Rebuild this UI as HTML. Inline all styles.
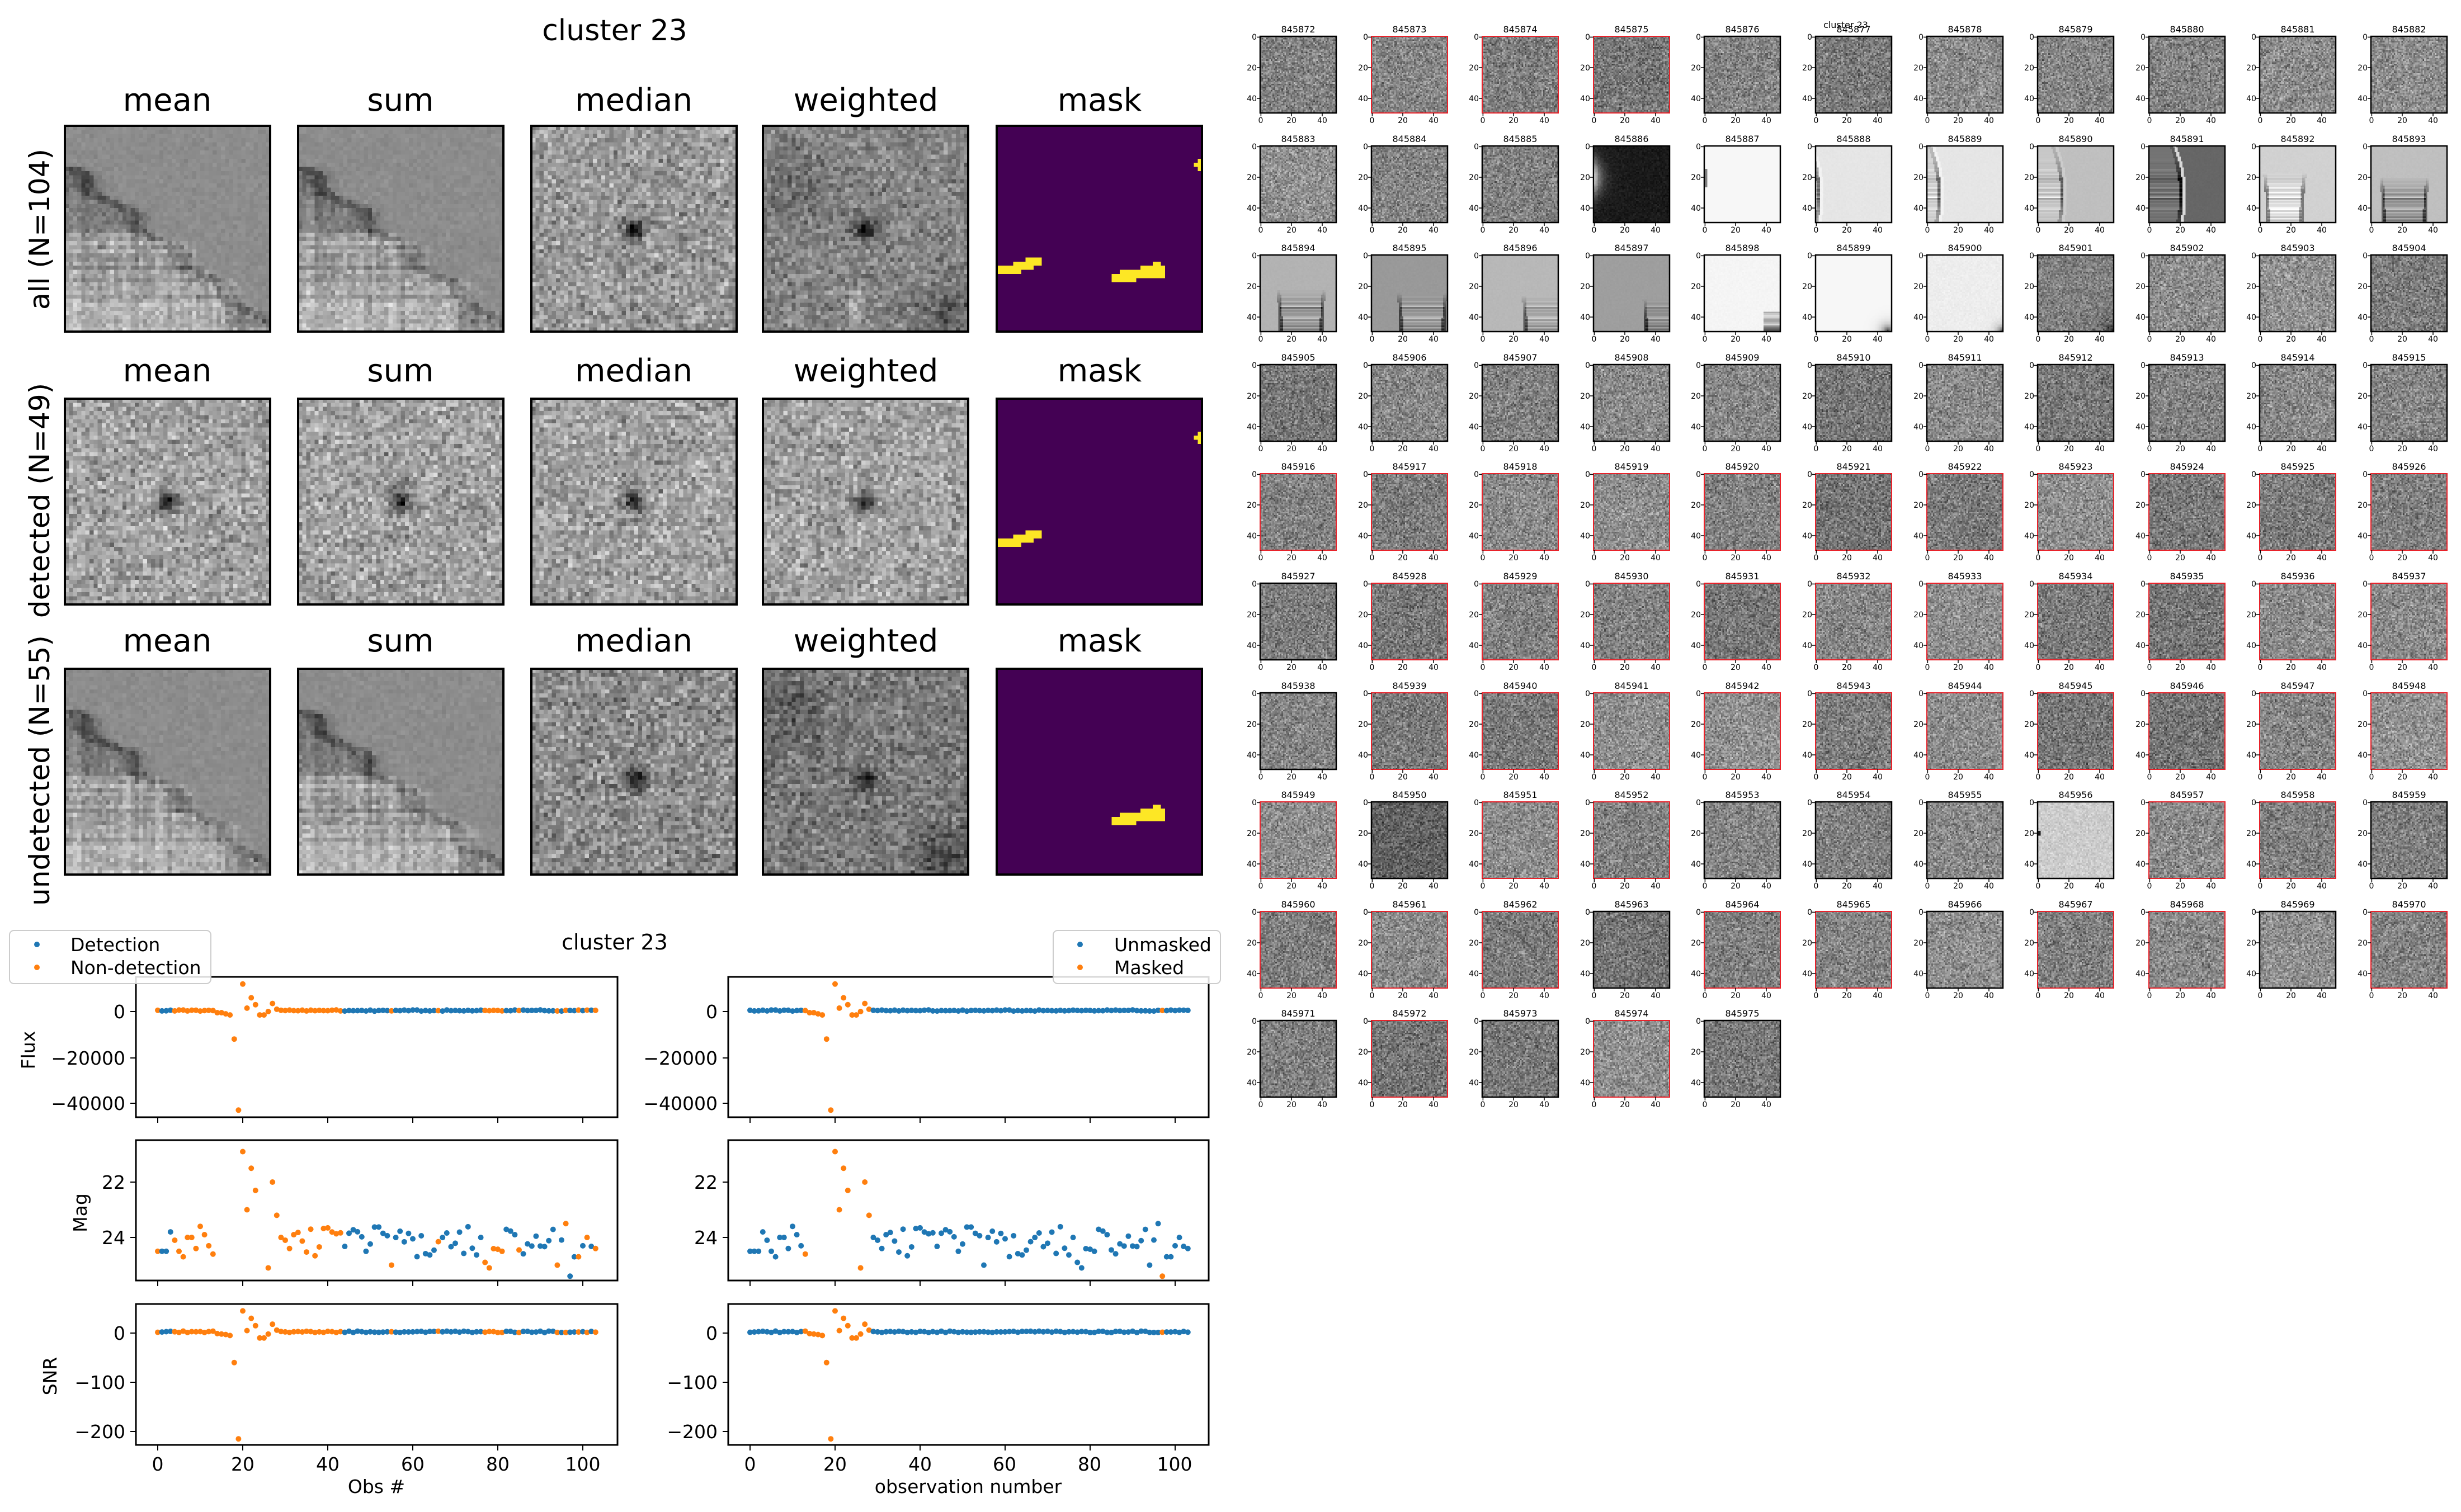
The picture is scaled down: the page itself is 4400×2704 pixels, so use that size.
<!DOCTYPE html>
<html><head><meta charset="utf-8">
<style>
html,body{margin:0;padding:0;background:#fff;}
body{width:4400px;height:2704px;position:relative;overflow:hidden;font-family:"DejaVu Sans","Liberation Sans",sans-serif;}
canvas{position:absolute;image-rendering:pixelated;}
svg{position:absolute;left:0;top:0;}
.t{font-size:16px;text-anchor:middle;}
.yl{font-size:14px;text-anchor:end;}
.xl{font-size:14px;text-anchor:middle;}
.big{font-size:56px;text-anchor:middle;}
.tk{font-size:33px;}
</style></head><body>
<div id="cv"></div>
<svg id="s" width="4400" height="2704" viewBox="0 0 4400 2704" font-family="DejaVu Sans, Liberation Sans, sans-serif">
<g id="dyn"></g>
<text x="1099" y="72" font-size="52" text-anchor="middle">cluster 23</text>
<g class="big">
<text x="299" y="198" class="big">mean</text><text x="716" y="198" class="big">sum</text><text x="1133" y="198" class="big">median</text><text x="1548" y="198" class="big">weighted</text><text x="1966" y="198" class="big">mask</text>
<text x="299" y="682" class="big">mean</text><text x="716" y="682" class="big">sum</text><text x="1133" y="682" class="big">median</text><text x="1548" y="682" class="big">weighted</text><text x="1966" y="682" class="big">mask</text>
<text x="299" y="1165" class="big">mean</text><text x="716" y="1165" class="big">sum</text><text x="1133" y="1165" class="big">median</text><text x="1548" y="1165" class="big">weighted</text><text x="1966" y="1165" class="big">mask</text>
</g>
<text transform="translate(88,410) rotate(-90)" font-size="50" text-anchor="middle">all (N=104)</text>
<text transform="translate(88,895) rotate(-90)" font-size="50" text-anchor="middle">detected (N=49)</text>
<text transform="translate(88,1378) rotate(-90)" font-size="50" text-anchor="middle">undetected (N=55)</text>

<text x="1099" y="1698" font-size="38" text-anchor="middle">cluster 23</text>
<g class="tk" text-anchor="end">
<text x="224" y="1821">0</text><text x="224" y="1904">−20000</text><text x="224" y="1985">−40000</text>
<text x="224" y="2126">22</text><text x="224" y="2225">24</text>
<text x="224" y="2396">0</text><text x="224" y="2484">−100</text><text x="224" y="2572">−200</text>
<text x="1283" y="1821">0</text><text x="1283" y="1904">−20000</text><text x="1283" y="1985">−40000</text>
<text x="1283" y="2126">22</text><text x="1283" y="2225">24</text>
<text x="1283" y="2396">0</text><text x="1283" y="2484">−100</text><text x="1283" y="2572">−200</text>
</g>
<g class="tk" text-anchor="middle">
<text x="282" y="2630">0</text><text x="434" y="2630">20</text><text x="586" y="2630">40</text><text x="738" y="2630">60</text><text x="890" y="2630">80</text><text x="1042" y="2630">100</text>
<text x="1341" y="2630">0</text><text x="1493" y="2630">20</text><text x="1645" y="2630">40</text><text x="1796" y="2630">60</text><text x="1948" y="2630">80</text><text x="2100" y="2630">100</text>
<text x="673" y="2670">Obs #</text><text x="1731" y="2670">observation number</text>
</g>
<text transform="translate(62,1878) rotate(-90)" font-size="33" text-anchor="middle">Flux</text>
<text transform="translate(155,2169) rotate(-90)" font-size="33" text-anchor="middle">Mag</text>
<text transform="translate(101,2461) rotate(-90)" font-size="33" text-anchor="middle">SNR</text>
<rect x="17" y="1664" width="360" height="95" rx="8" fill="#fff" fill-opacity="0.85" stroke="#ccc" stroke-width="2"/>
<circle cx="66" cy="1689" r="5" fill="#1f77b4"/><circle cx="66" cy="1730" r="5" fill="#ff7f0e"/>
<text x="126" y="1701" font-size="33">Detection</text><text x="126" y="1742" font-size="33">Non-detection</text>
<rect x="1883" y="1664" width="299" height="95" rx="8" fill="#fff" fill-opacity="0.85" stroke="#ccc" stroke-width="2"/>
<circle cx="1931" cy="1689" r="5" fill="#1f77b4"/><circle cx="1931" cy="1730" r="5" fill="#ff7f0e"/>
<text x="1992" y="1701" font-size="33">Unmasked</text><text x="1992" y="1742" font-size="33">Masked</text>

<text x="3300" y="50" font-size="16" text-anchor="middle">cluster 23</text>
</svg>
<svg width="4400" height="2704" viewBox="0 0 4400 2704" font-family="DejaVu Sans, Liberation Sans, sans-serif" style="position:absolute;left:0;top:0">
<g transform="translate(2253,65)"><text class="t" x="68" y="-7">845872</text><text class="yl" x="-6" y="6">0</text><text class="yl" x="-6" y="61">20</text><text class="yl" x="-6" y="116">40</text><text class="xl" x="1" y="155">0</text><text class="xl" x="56" y="155">20</text><text class="xl" x="111" y="155">40</text></g>
<g transform="translate(2452,65)"><text class="t" x="68" y="-7">845873</text><text class="yl" x="-6" y="6">0</text><text class="yl" x="-6" y="61">20</text><text class="yl" x="-6" y="116">40</text><text class="xl" x="1" y="155">0</text><text class="xl" x="56" y="155">20</text><text class="xl" x="111" y="155">40</text></g>
<g transform="translate(2650,65)"><text class="t" x="68" y="-7">845874</text><text class="yl" x="-6" y="6">0</text><text class="yl" x="-6" y="61">20</text><text class="yl" x="-6" y="116">40</text><text class="xl" x="1" y="155">0</text><text class="xl" x="56" y="155">20</text><text class="xl" x="111" y="155">40</text></g>
<g transform="translate(2849,65)"><text class="t" x="68" y="-7">845875</text><text class="yl" x="-6" y="6">0</text><text class="yl" x="-6" y="61">20</text><text class="yl" x="-6" y="116">40</text><text class="xl" x="1" y="155">0</text><text class="xl" x="56" y="155">20</text><text class="xl" x="111" y="155">40</text></g>
<g transform="translate(3047,65)"><text class="t" x="68" y="-7">845876</text><text class="yl" x="-6" y="6">0</text><text class="yl" x="-6" y="61">20</text><text class="yl" x="-6" y="116">40</text><text class="xl" x="1" y="155">0</text><text class="xl" x="56" y="155">20</text><text class="xl" x="111" y="155">40</text></g>
<g transform="translate(3246,65)"><text class="t" x="68" y="-7">845877</text><text class="yl" x="-6" y="6">0</text><text class="yl" x="-6" y="61">20</text><text class="yl" x="-6" y="116">40</text><text class="xl" x="1" y="155">0</text><text class="xl" x="56" y="155">20</text><text class="xl" x="111" y="155">40</text></g>
<g transform="translate(3445,65)"><text class="t" x="68" y="-7">845878</text><text class="yl" x="-6" y="6">0</text><text class="yl" x="-6" y="61">20</text><text class="yl" x="-6" y="116">40</text><text class="xl" x="1" y="155">0</text><text class="xl" x="56" y="155">20</text><text class="xl" x="111" y="155">40</text></g>
<g transform="translate(3643,65)"><text class="t" x="68" y="-7">845879</text><text class="yl" x="-6" y="6">0</text><text class="yl" x="-6" y="61">20</text><text class="yl" x="-6" y="116">40</text><text class="xl" x="1" y="155">0</text><text class="xl" x="56" y="155">20</text><text class="xl" x="111" y="155">40</text></g>
<g transform="translate(3842,65)"><text class="t" x="68" y="-7">845880</text><text class="yl" x="-6" y="6">0</text><text class="yl" x="-6" y="61">20</text><text class="yl" x="-6" y="116">40</text><text class="xl" x="1" y="155">0</text><text class="xl" x="56" y="155">20</text><text class="xl" x="111" y="155">40</text></g>
<g transform="translate(4040,65)"><text class="t" x="68" y="-7">845881</text><text class="yl" x="-6" y="6">0</text><text class="yl" x="-6" y="61">20</text><text class="yl" x="-6" y="116">40</text><text class="xl" x="1" y="155">0</text><text class="xl" x="56" y="155">20</text><text class="xl" x="111" y="155">40</text></g>
<g transform="translate(4239,65)"><text class="t" x="68" y="-7">845882</text><text class="yl" x="-6" y="6">0</text><text class="yl" x="-6" y="61">20</text><text class="yl" x="-6" y="116">40</text><text class="xl" x="1" y="155">0</text><text class="xl" x="56" y="155">20</text><text class="xl" x="111" y="155">40</text></g>
<g transform="translate(2253,261)"><text class="t" x="68" y="-7">845883</text><text class="yl" x="-6" y="6">0</text><text class="yl" x="-6" y="61">20</text><text class="yl" x="-6" y="116">40</text><text class="xl" x="1" y="155">0</text><text class="xl" x="56" y="155">20</text><text class="xl" x="111" y="155">40</text></g>
<g transform="translate(2452,261)"><text class="t" x="68" y="-7">845884</text><text class="yl" x="-6" y="6">0</text><text class="yl" x="-6" y="61">20</text><text class="yl" x="-6" y="116">40</text><text class="xl" x="1" y="155">0</text><text class="xl" x="56" y="155">20</text><text class="xl" x="111" y="155">40</text></g>
<g transform="translate(2650,261)"><text class="t" x="68" y="-7">845885</text><text class="yl" x="-6" y="6">0</text><text class="yl" x="-6" y="61">20</text><text class="yl" x="-6" y="116">40</text><text class="xl" x="1" y="155">0</text><text class="xl" x="56" y="155">20</text><text class="xl" x="111" y="155">40</text></g>
<g transform="translate(2849,261)"><text class="t" x="68" y="-7">845886</text><text class="yl" x="-6" y="6">0</text><text class="yl" x="-6" y="61">20</text><text class="yl" x="-6" y="116">40</text><text class="xl" x="1" y="155">0</text><text class="xl" x="56" y="155">20</text><text class="xl" x="111" y="155">40</text></g>
<g transform="translate(3047,261)"><text class="t" x="68" y="-7">845887</text><text class="yl" x="-6" y="6">0</text><text class="yl" x="-6" y="61">20</text><text class="yl" x="-6" y="116">40</text><text class="xl" x="1" y="155">0</text><text class="xl" x="56" y="155">20</text><text class="xl" x="111" y="155">40</text></g>
<g transform="translate(3246,261)"><text class="t" x="68" y="-7">845888</text><text class="yl" x="-6" y="6">0</text><text class="yl" x="-6" y="61">20</text><text class="yl" x="-6" y="116">40</text><text class="xl" x="1" y="155">0</text><text class="xl" x="56" y="155">20</text><text class="xl" x="111" y="155">40</text></g>
<g transform="translate(3445,261)"><text class="t" x="68" y="-7">845889</text><text class="yl" x="-6" y="6">0</text><text class="yl" x="-6" y="61">20</text><text class="yl" x="-6" y="116">40</text><text class="xl" x="1" y="155">0</text><text class="xl" x="56" y="155">20</text><text class="xl" x="111" y="155">40</text></g>
<g transform="translate(3643,261)"><text class="t" x="68" y="-7">845890</text><text class="yl" x="-6" y="6">0</text><text class="yl" x="-6" y="61">20</text><text class="yl" x="-6" y="116">40</text><text class="xl" x="1" y="155">0</text><text class="xl" x="56" y="155">20</text><text class="xl" x="111" y="155">40</text></g>
<g transform="translate(3842,261)"><text class="t" x="68" y="-7">845891</text><text class="yl" x="-6" y="6">0</text><text class="yl" x="-6" y="61">20</text><text class="yl" x="-6" y="116">40</text><text class="xl" x="1" y="155">0</text><text class="xl" x="56" y="155">20</text><text class="xl" x="111" y="155">40</text></g>
<g transform="translate(4040,261)"><text class="t" x="68" y="-7">845892</text><text class="yl" x="-6" y="6">0</text><text class="yl" x="-6" y="61">20</text><text class="yl" x="-6" y="116">40</text><text class="xl" x="1" y="155">0</text><text class="xl" x="56" y="155">20</text><text class="xl" x="111" y="155">40</text></g>
<g transform="translate(4239,261)"><text class="t" x="68" y="-7">845893</text><text class="yl" x="-6" y="6">0</text><text class="yl" x="-6" y="61">20</text><text class="yl" x="-6" y="116">40</text><text class="xl" x="1" y="155">0</text><text class="xl" x="56" y="155">20</text><text class="xl" x="111" y="155">40</text></g>
<g transform="translate(2253,456)"><text class="t" x="68" y="-7">845894</text><text class="yl" x="-6" y="6">0</text><text class="yl" x="-6" y="61">20</text><text class="yl" x="-6" y="116">40</text><text class="xl" x="1" y="155">0</text><text class="xl" x="56" y="155">20</text><text class="xl" x="111" y="155">40</text></g>
<g transform="translate(2452,456)"><text class="t" x="68" y="-7">845895</text><text class="yl" x="-6" y="6">0</text><text class="yl" x="-6" y="61">20</text><text class="yl" x="-6" y="116">40</text><text class="xl" x="1" y="155">0</text><text class="xl" x="56" y="155">20</text><text class="xl" x="111" y="155">40</text></g>
<g transform="translate(2650,456)"><text class="t" x="68" y="-7">845896</text><text class="yl" x="-6" y="6">0</text><text class="yl" x="-6" y="61">20</text><text class="yl" x="-6" y="116">40</text><text class="xl" x="1" y="155">0</text><text class="xl" x="56" y="155">20</text><text class="xl" x="111" y="155">40</text></g>
<g transform="translate(2849,456)"><text class="t" x="68" y="-7">845897</text><text class="yl" x="-6" y="6">0</text><text class="yl" x="-6" y="61">20</text><text class="yl" x="-6" y="116">40</text><text class="xl" x="1" y="155">0</text><text class="xl" x="56" y="155">20</text><text class="xl" x="111" y="155">40</text></g>
<g transform="translate(3047,456)"><text class="t" x="68" y="-7">845898</text><text class="yl" x="-6" y="6">0</text><text class="yl" x="-6" y="61">20</text><text class="yl" x="-6" y="116">40</text><text class="xl" x="1" y="155">0</text><text class="xl" x="56" y="155">20</text><text class="xl" x="111" y="155">40</text></g>
<g transform="translate(3246,456)"><text class="t" x="68" y="-7">845899</text><text class="yl" x="-6" y="6">0</text><text class="yl" x="-6" y="61">20</text><text class="yl" x="-6" y="116">40</text><text class="xl" x="1" y="155">0</text><text class="xl" x="56" y="155">20</text><text class="xl" x="111" y="155">40</text></g>
<g transform="translate(3445,456)"><text class="t" x="68" y="-7">845900</text><text class="yl" x="-6" y="6">0</text><text class="yl" x="-6" y="61">20</text><text class="yl" x="-6" y="116">40</text><text class="xl" x="1" y="155">0</text><text class="xl" x="56" y="155">20</text><text class="xl" x="111" y="155">40</text></g>
<g transform="translate(3643,456)"><text class="t" x="68" y="-7">845901</text><text class="yl" x="-6" y="6">0</text><text class="yl" x="-6" y="61">20</text><text class="yl" x="-6" y="116">40</text><text class="xl" x="1" y="155">0</text><text class="xl" x="56" y="155">20</text><text class="xl" x="111" y="155">40</text></g>
<g transform="translate(3842,456)"><text class="t" x="68" y="-7">845902</text><text class="yl" x="-6" y="6">0</text><text class="yl" x="-6" y="61">20</text><text class="yl" x="-6" y="116">40</text><text class="xl" x="1" y="155">0</text><text class="xl" x="56" y="155">20</text><text class="xl" x="111" y="155">40</text></g>
<g transform="translate(4040,456)"><text class="t" x="68" y="-7">845903</text><text class="yl" x="-6" y="6">0</text><text class="yl" x="-6" y="61">20</text><text class="yl" x="-6" y="116">40</text><text class="xl" x="1" y="155">0</text><text class="xl" x="56" y="155">20</text><text class="xl" x="111" y="155">40</text></g>
<g transform="translate(4239,456)"><text class="t" x="68" y="-7">845904</text><text class="yl" x="-6" y="6">0</text><text class="yl" x="-6" y="61">20</text><text class="yl" x="-6" y="116">40</text><text class="xl" x="1" y="155">0</text><text class="xl" x="56" y="155">20</text><text class="xl" x="111" y="155">40</text></g>
<g transform="translate(2253,652)"><text class="t" x="68" y="-7">845905</text><text class="yl" x="-6" y="6">0</text><text class="yl" x="-6" y="61">20</text><text class="yl" x="-6" y="116">40</text><text class="xl" x="1" y="155">0</text><text class="xl" x="56" y="155">20</text><text class="xl" x="111" y="155">40</text></g>
<g transform="translate(2452,652)"><text class="t" x="68" y="-7">845906</text><text class="yl" x="-6" y="6">0</text><text class="yl" x="-6" y="61">20</text><text class="yl" x="-6" y="116">40</text><text class="xl" x="1" y="155">0</text><text class="xl" x="56" y="155">20</text><text class="xl" x="111" y="155">40</text></g>
<g transform="translate(2650,652)"><text class="t" x="68" y="-7">845907</text><text class="yl" x="-6" y="6">0</text><text class="yl" x="-6" y="61">20</text><text class="yl" x="-6" y="116">40</text><text class="xl" x="1" y="155">0</text><text class="xl" x="56" y="155">20</text><text class="xl" x="111" y="155">40</text></g>
<g transform="translate(2849,652)"><text class="t" x="68" y="-7">845908</text><text class="yl" x="-6" y="6">0</text><text class="yl" x="-6" y="61">20</text><text class="yl" x="-6" y="116">40</text><text class="xl" x="1" y="155">0</text><text class="xl" x="56" y="155">20</text><text class="xl" x="111" y="155">40</text></g>
<g transform="translate(3047,652)"><text class="t" x="68" y="-7">845909</text><text class="yl" x="-6" y="6">0</text><text class="yl" x="-6" y="61">20</text><text class="yl" x="-6" y="116">40</text><text class="xl" x="1" y="155">0</text><text class="xl" x="56" y="155">20</text><text class="xl" x="111" y="155">40</text></g>
<g transform="translate(3246,652)"><text class="t" x="68" y="-7">845910</text><text class="yl" x="-6" y="6">0</text><text class="yl" x="-6" y="61">20</text><text class="yl" x="-6" y="116">40</text><text class="xl" x="1" y="155">0</text><text class="xl" x="56" y="155">20</text><text class="xl" x="111" y="155">40</text></g>
<g transform="translate(3445,652)"><text class="t" x="68" y="-7">845911</text><text class="yl" x="-6" y="6">0</text><text class="yl" x="-6" y="61">20</text><text class="yl" x="-6" y="116">40</text><text class="xl" x="1" y="155">0</text><text class="xl" x="56" y="155">20</text><text class="xl" x="111" y="155">40</text></g>
<g transform="translate(3643,652)"><text class="t" x="68" y="-7">845912</text><text class="yl" x="-6" y="6">0</text><text class="yl" x="-6" y="61">20</text><text class="yl" x="-6" y="116">40</text><text class="xl" x="1" y="155">0</text><text class="xl" x="56" y="155">20</text><text class="xl" x="111" y="155">40</text></g>
<g transform="translate(3842,652)"><text class="t" x="68" y="-7">845913</text><text class="yl" x="-6" y="6">0</text><text class="yl" x="-6" y="61">20</text><text class="yl" x="-6" y="116">40</text><text class="xl" x="1" y="155">0</text><text class="xl" x="56" y="155">20</text><text class="xl" x="111" y="155">40</text></g>
<g transform="translate(4040,652)"><text class="t" x="68" y="-7">845914</text><text class="yl" x="-6" y="6">0</text><text class="yl" x="-6" y="61">20</text><text class="yl" x="-6" y="116">40</text><text class="xl" x="1" y="155">0</text><text class="xl" x="56" y="155">20</text><text class="xl" x="111" y="155">40</text></g>
<g transform="translate(4239,652)"><text class="t" x="68" y="-7">845915</text><text class="yl" x="-6" y="6">0</text><text class="yl" x="-6" y="61">20</text><text class="yl" x="-6" y="116">40</text><text class="xl" x="1" y="155">0</text><text class="xl" x="56" y="155">20</text><text class="xl" x="111" y="155">40</text></g>
<g transform="translate(2253,847)"><text class="t" x="68" y="-7">845916</text><text class="yl" x="-6" y="6">0</text><text class="yl" x="-6" y="61">20</text><text class="yl" x="-6" y="116">40</text><text class="xl" x="1" y="155">0</text><text class="xl" x="56" y="155">20</text><text class="xl" x="111" y="155">40</text></g>
<g transform="translate(2452,847)"><text class="t" x="68" y="-7">845917</text><text class="yl" x="-6" y="6">0</text><text class="yl" x="-6" y="61">20</text><text class="yl" x="-6" y="116">40</text><text class="xl" x="1" y="155">0</text><text class="xl" x="56" y="155">20</text><text class="xl" x="111" y="155">40</text></g>
<g transform="translate(2650,847)"><text class="t" x="68" y="-7">845918</text><text class="yl" x="-6" y="6">0</text><text class="yl" x="-6" y="61">20</text><text class="yl" x="-6" y="116">40</text><text class="xl" x="1" y="155">0</text><text class="xl" x="56" y="155">20</text><text class="xl" x="111" y="155">40</text></g>
<g transform="translate(2849,847)"><text class="t" x="68" y="-7">845919</text><text class="yl" x="-6" y="6">0</text><text class="yl" x="-6" y="61">20</text><text class="yl" x="-6" y="116">40</text><text class="xl" x="1" y="155">0</text><text class="xl" x="56" y="155">20</text><text class="xl" x="111" y="155">40</text></g>
<g transform="translate(3047,847)"><text class="t" x="68" y="-7">845920</text><text class="yl" x="-6" y="6">0</text><text class="yl" x="-6" y="61">20</text><text class="yl" x="-6" y="116">40</text><text class="xl" x="1" y="155">0</text><text class="xl" x="56" y="155">20</text><text class="xl" x="111" y="155">40</text></g>
<g transform="translate(3246,847)"><text class="t" x="68" y="-7">845921</text><text class="yl" x="-6" y="6">0</text><text class="yl" x="-6" y="61">20</text><text class="yl" x="-6" y="116">40</text><text class="xl" x="1" y="155">0</text><text class="xl" x="56" y="155">20</text><text class="xl" x="111" y="155">40</text></g>
<g transform="translate(3445,847)"><text class="t" x="68" y="-7">845922</text><text class="yl" x="-6" y="6">0</text><text class="yl" x="-6" y="61">20</text><text class="yl" x="-6" y="116">40</text><text class="xl" x="1" y="155">0</text><text class="xl" x="56" y="155">20</text><text class="xl" x="111" y="155">40</text></g>
<g transform="translate(3643,847)"><text class="t" x="68" y="-7">845923</text><text class="yl" x="-6" y="6">0</text><text class="yl" x="-6" y="61">20</text><text class="yl" x="-6" y="116">40</text><text class="xl" x="1" y="155">0</text><text class="xl" x="56" y="155">20</text><text class="xl" x="111" y="155">40</text></g>
<g transform="translate(3842,847)"><text class="t" x="68" y="-7">845924</text><text class="yl" x="-6" y="6">0</text><text class="yl" x="-6" y="61">20</text><text class="yl" x="-6" y="116">40</text><text class="xl" x="1" y="155">0</text><text class="xl" x="56" y="155">20</text><text class="xl" x="111" y="155">40</text></g>
<g transform="translate(4040,847)"><text class="t" x="68" y="-7">845925</text><text class="yl" x="-6" y="6">0</text><text class="yl" x="-6" y="61">20</text><text class="yl" x="-6" y="116">40</text><text class="xl" x="1" y="155">0</text><text class="xl" x="56" y="155">20</text><text class="xl" x="111" y="155">40</text></g>
<g transform="translate(4239,847)"><text class="t" x="68" y="-7">845926</text><text class="yl" x="-6" y="6">0</text><text class="yl" x="-6" y="61">20</text><text class="yl" x="-6" y="116">40</text><text class="xl" x="1" y="155">0</text><text class="xl" x="56" y="155">20</text><text class="xl" x="111" y="155">40</text></g>
<g transform="translate(2253,1043)"><text class="t" x="68" y="-7">845927</text><text class="yl" x="-6" y="6">0</text><text class="yl" x="-6" y="61">20</text><text class="yl" x="-6" y="116">40</text><text class="xl" x="1" y="155">0</text><text class="xl" x="56" y="155">20</text><text class="xl" x="111" y="155">40</text></g>
<g transform="translate(2452,1043)"><text class="t" x="68" y="-7">845928</text><text class="yl" x="-6" y="6">0</text><text class="yl" x="-6" y="61">20</text><text class="yl" x="-6" y="116">40</text><text class="xl" x="1" y="155">0</text><text class="xl" x="56" y="155">20</text><text class="xl" x="111" y="155">40</text></g>
<g transform="translate(2650,1043)"><text class="t" x="68" y="-7">845929</text><text class="yl" x="-6" y="6">0</text><text class="yl" x="-6" y="61">20</text><text class="yl" x="-6" y="116">40</text><text class="xl" x="1" y="155">0</text><text class="xl" x="56" y="155">20</text><text class="xl" x="111" y="155">40</text></g>
<g transform="translate(2849,1043)"><text class="t" x="68" y="-7">845930</text><text class="yl" x="-6" y="6">0</text><text class="yl" x="-6" y="61">20</text><text class="yl" x="-6" y="116">40</text><text class="xl" x="1" y="155">0</text><text class="xl" x="56" y="155">20</text><text class="xl" x="111" y="155">40</text></g>
<g transform="translate(3047,1043)"><text class="t" x="68" y="-7">845931</text><text class="yl" x="-6" y="6">0</text><text class="yl" x="-6" y="61">20</text><text class="yl" x="-6" y="116">40</text><text class="xl" x="1" y="155">0</text><text class="xl" x="56" y="155">20</text><text class="xl" x="111" y="155">40</text></g>
<g transform="translate(3246,1043)"><text class="t" x="68" y="-7">845932</text><text class="yl" x="-6" y="6">0</text><text class="yl" x="-6" y="61">20</text><text class="yl" x="-6" y="116">40</text><text class="xl" x="1" y="155">0</text><text class="xl" x="56" y="155">20</text><text class="xl" x="111" y="155">40</text></g>
<g transform="translate(3445,1043)"><text class="t" x="68" y="-7">845933</text><text class="yl" x="-6" y="6">0</text><text class="yl" x="-6" y="61">20</text><text class="yl" x="-6" y="116">40</text><text class="xl" x="1" y="155">0</text><text class="xl" x="56" y="155">20</text><text class="xl" x="111" y="155">40</text></g>
<g transform="translate(3643,1043)"><text class="t" x="68" y="-7">845934</text><text class="yl" x="-6" y="6">0</text><text class="yl" x="-6" y="61">20</text><text class="yl" x="-6" y="116">40</text><text class="xl" x="1" y="155">0</text><text class="xl" x="56" y="155">20</text><text class="xl" x="111" y="155">40</text></g>
<g transform="translate(3842,1043)"><text class="t" x="68" y="-7">845935</text><text class="yl" x="-6" y="6">0</text><text class="yl" x="-6" y="61">20</text><text class="yl" x="-6" y="116">40</text><text class="xl" x="1" y="155">0</text><text class="xl" x="56" y="155">20</text><text class="xl" x="111" y="155">40</text></g>
<g transform="translate(4040,1043)"><text class="t" x="68" y="-7">845936</text><text class="yl" x="-6" y="6">0</text><text class="yl" x="-6" y="61">20</text><text class="yl" x="-6" y="116">40</text><text class="xl" x="1" y="155">0</text><text class="xl" x="56" y="155">20</text><text class="xl" x="111" y="155">40</text></g>
<g transform="translate(4239,1043)"><text class="t" x="68" y="-7">845937</text><text class="yl" x="-6" y="6">0</text><text class="yl" x="-6" y="61">20</text><text class="yl" x="-6" y="116">40</text><text class="xl" x="1" y="155">0</text><text class="xl" x="56" y="155">20</text><text class="xl" x="111" y="155">40</text></g>
<g transform="translate(2253,1239)"><text class="t" x="68" y="-7">845938</text><text class="yl" x="-6" y="6">0</text><text class="yl" x="-6" y="61">20</text><text class="yl" x="-6" y="116">40</text><text class="xl" x="1" y="155">0</text><text class="xl" x="56" y="155">20</text><text class="xl" x="111" y="155">40</text></g>
<g transform="translate(2452,1239)"><text class="t" x="68" y="-7">845939</text><text class="yl" x="-6" y="6">0</text><text class="yl" x="-6" y="61">20</text><text class="yl" x="-6" y="116">40</text><text class="xl" x="1" y="155">0</text><text class="xl" x="56" y="155">20</text><text class="xl" x="111" y="155">40</text></g>
<g transform="translate(2650,1239)"><text class="t" x="68" y="-7">845940</text><text class="yl" x="-6" y="6">0</text><text class="yl" x="-6" y="61">20</text><text class="yl" x="-6" y="116">40</text><text class="xl" x="1" y="155">0</text><text class="xl" x="56" y="155">20</text><text class="xl" x="111" y="155">40</text></g>
<g transform="translate(2849,1239)"><text class="t" x="68" y="-7">845941</text><text class="yl" x="-6" y="6">0</text><text class="yl" x="-6" y="61">20</text><text class="yl" x="-6" y="116">40</text><text class="xl" x="1" y="155">0</text><text class="xl" x="56" y="155">20</text><text class="xl" x="111" y="155">40</text></g>
<g transform="translate(3047,1239)"><text class="t" x="68" y="-7">845942</text><text class="yl" x="-6" y="6">0</text><text class="yl" x="-6" y="61">20</text><text class="yl" x="-6" y="116">40</text><text class="xl" x="1" y="155">0</text><text class="xl" x="56" y="155">20</text><text class="xl" x="111" y="155">40</text></g>
<g transform="translate(3246,1239)"><text class="t" x="68" y="-7">845943</text><text class="yl" x="-6" y="6">0</text><text class="yl" x="-6" y="61">20</text><text class="yl" x="-6" y="116">40</text><text class="xl" x="1" y="155">0</text><text class="xl" x="56" y="155">20</text><text class="xl" x="111" y="155">40</text></g>
<g transform="translate(3445,1239)"><text class="t" x="68" y="-7">845944</text><text class="yl" x="-6" y="6">0</text><text class="yl" x="-6" y="61">20</text><text class="yl" x="-6" y="116">40</text><text class="xl" x="1" y="155">0</text><text class="xl" x="56" y="155">20</text><text class="xl" x="111" y="155">40</text></g>
<g transform="translate(3643,1239)"><text class="t" x="68" y="-7">845945</text><text class="yl" x="-6" y="6">0</text><text class="yl" x="-6" y="61">20</text><text class="yl" x="-6" y="116">40</text><text class="xl" x="1" y="155">0</text><text class="xl" x="56" y="155">20</text><text class="xl" x="111" y="155">40</text></g>
<g transform="translate(3842,1239)"><text class="t" x="68" y="-7">845946</text><text class="yl" x="-6" y="6">0</text><text class="yl" x="-6" y="61">20</text><text class="yl" x="-6" y="116">40</text><text class="xl" x="1" y="155">0</text><text class="xl" x="56" y="155">20</text><text class="xl" x="111" y="155">40</text></g>
<g transform="translate(4040,1239)"><text class="t" x="68" y="-7">845947</text><text class="yl" x="-6" y="6">0</text><text class="yl" x="-6" y="61">20</text><text class="yl" x="-6" y="116">40</text><text class="xl" x="1" y="155">0</text><text class="xl" x="56" y="155">20</text><text class="xl" x="111" y="155">40</text></g>
<g transform="translate(4239,1239)"><text class="t" x="68" y="-7">845948</text><text class="yl" x="-6" y="6">0</text><text class="yl" x="-6" y="61">20</text><text class="yl" x="-6" y="116">40</text><text class="xl" x="1" y="155">0</text><text class="xl" x="56" y="155">20</text><text class="xl" x="111" y="155">40</text></g>
<g transform="translate(2253,1434)"><text class="t" x="68" y="-7">845949</text><text class="yl" x="-6" y="6">0</text><text class="yl" x="-6" y="61">20</text><text class="yl" x="-6" y="116">40</text><text class="xl" x="1" y="155">0</text><text class="xl" x="56" y="155">20</text><text class="xl" x="111" y="155">40</text></g>
<g transform="translate(2452,1434)"><text class="t" x="68" y="-7">845950</text><text class="yl" x="-6" y="6">0</text><text class="yl" x="-6" y="61">20</text><text class="yl" x="-6" y="116">40</text><text class="xl" x="1" y="155">0</text><text class="xl" x="56" y="155">20</text><text class="xl" x="111" y="155">40</text></g>
<g transform="translate(2650,1434)"><text class="t" x="68" y="-7">845951</text><text class="yl" x="-6" y="6">0</text><text class="yl" x="-6" y="61">20</text><text class="yl" x="-6" y="116">40</text><text class="xl" x="1" y="155">0</text><text class="xl" x="56" y="155">20</text><text class="xl" x="111" y="155">40</text></g>
<g transform="translate(2849,1434)"><text class="t" x="68" y="-7">845952</text><text class="yl" x="-6" y="6">0</text><text class="yl" x="-6" y="61">20</text><text class="yl" x="-6" y="116">40</text><text class="xl" x="1" y="155">0</text><text class="xl" x="56" y="155">20</text><text class="xl" x="111" y="155">40</text></g>
<g transform="translate(3047,1434)"><text class="t" x="68" y="-7">845953</text><text class="yl" x="-6" y="6">0</text><text class="yl" x="-6" y="61">20</text><text class="yl" x="-6" y="116">40</text><text class="xl" x="1" y="155">0</text><text class="xl" x="56" y="155">20</text><text class="xl" x="111" y="155">40</text></g>
<g transform="translate(3246,1434)"><text class="t" x="68" y="-7">845954</text><text class="yl" x="-6" y="6">0</text><text class="yl" x="-6" y="61">20</text><text class="yl" x="-6" y="116">40</text><text class="xl" x="1" y="155">0</text><text class="xl" x="56" y="155">20</text><text class="xl" x="111" y="155">40</text></g>
<g transform="translate(3445,1434)"><text class="t" x="68" y="-7">845955</text><text class="yl" x="-6" y="6">0</text><text class="yl" x="-6" y="61">20</text><text class="yl" x="-6" y="116">40</text><text class="xl" x="1" y="155">0</text><text class="xl" x="56" y="155">20</text><text class="xl" x="111" y="155">40</text></g>
<g transform="translate(3643,1434)"><text class="t" x="68" y="-7">845956</text><text class="yl" x="-6" y="6">0</text><text class="yl" x="-6" y="61">20</text><text class="yl" x="-6" y="116">40</text><text class="xl" x="1" y="155">0</text><text class="xl" x="56" y="155">20</text><text class="xl" x="111" y="155">40</text></g>
<g transform="translate(3842,1434)"><text class="t" x="68" y="-7">845957</text><text class="yl" x="-6" y="6">0</text><text class="yl" x="-6" y="61">20</text><text class="yl" x="-6" y="116">40</text><text class="xl" x="1" y="155">0</text><text class="xl" x="56" y="155">20</text><text class="xl" x="111" y="155">40</text></g>
<g transform="translate(4040,1434)"><text class="t" x="68" y="-7">845958</text><text class="yl" x="-6" y="6">0</text><text class="yl" x="-6" y="61">20</text><text class="yl" x="-6" y="116">40</text><text class="xl" x="1" y="155">0</text><text class="xl" x="56" y="155">20</text><text class="xl" x="111" y="155">40</text></g>
<g transform="translate(4239,1434)"><text class="t" x="68" y="-7">845959</text><text class="yl" x="-6" y="6">0</text><text class="yl" x="-6" y="61">20</text><text class="yl" x="-6" y="116">40</text><text class="xl" x="1" y="155">0</text><text class="xl" x="56" y="155">20</text><text class="xl" x="111" y="155">40</text></g>
<g transform="translate(2253,1630)"><text class="t" x="68" y="-7">845960</text><text class="yl" x="-6" y="6">0</text><text class="yl" x="-6" y="61">20</text><text class="yl" x="-6" y="116">40</text><text class="xl" x="1" y="155">0</text><text class="xl" x="56" y="155">20</text><text class="xl" x="111" y="155">40</text></g>
<g transform="translate(2452,1630)"><text class="t" x="68" y="-7">845961</text><text class="yl" x="-6" y="6">0</text><text class="yl" x="-6" y="61">20</text><text class="yl" x="-6" y="116">40</text><text class="xl" x="1" y="155">0</text><text class="xl" x="56" y="155">20</text><text class="xl" x="111" y="155">40</text></g>
<g transform="translate(2650,1630)"><text class="t" x="68" y="-7">845962</text><text class="yl" x="-6" y="6">0</text><text class="yl" x="-6" y="61">20</text><text class="yl" x="-6" y="116">40</text><text class="xl" x="1" y="155">0</text><text class="xl" x="56" y="155">20</text><text class="xl" x="111" y="155">40</text></g>
<g transform="translate(2849,1630)"><text class="t" x="68" y="-7">845963</text><text class="yl" x="-6" y="6">0</text><text class="yl" x="-6" y="61">20</text><text class="yl" x="-6" y="116">40</text><text class="xl" x="1" y="155">0</text><text class="xl" x="56" y="155">20</text><text class="xl" x="111" y="155">40</text></g>
<g transform="translate(3047,1630)"><text class="t" x="68" y="-7">845964</text><text class="yl" x="-6" y="6">0</text><text class="yl" x="-6" y="61">20</text><text class="yl" x="-6" y="116">40</text><text class="xl" x="1" y="155">0</text><text class="xl" x="56" y="155">20</text><text class="xl" x="111" y="155">40</text></g>
<g transform="translate(3246,1630)"><text class="t" x="68" y="-7">845965</text><text class="yl" x="-6" y="6">0</text><text class="yl" x="-6" y="61">20</text><text class="yl" x="-6" y="116">40</text><text class="xl" x="1" y="155">0</text><text class="xl" x="56" y="155">20</text><text class="xl" x="111" y="155">40</text></g>
<g transform="translate(3445,1630)"><text class="t" x="68" y="-7">845966</text><text class="yl" x="-6" y="6">0</text><text class="yl" x="-6" y="61">20</text><text class="yl" x="-6" y="116">40</text><text class="xl" x="1" y="155">0</text><text class="xl" x="56" y="155">20</text><text class="xl" x="111" y="155">40</text></g>
<g transform="translate(3643,1630)"><text class="t" x="68" y="-7">845967</text><text class="yl" x="-6" y="6">0</text><text class="yl" x="-6" y="61">20</text><text class="yl" x="-6" y="116">40</text><text class="xl" x="1" y="155">0</text><text class="xl" x="56" y="155">20</text><text class="xl" x="111" y="155">40</text></g>
<g transform="translate(3842,1630)"><text class="t" x="68" y="-7">845968</text><text class="yl" x="-6" y="6">0</text><text class="yl" x="-6" y="61">20</text><text class="yl" x="-6" y="116">40</text><text class="xl" x="1" y="155">0</text><text class="xl" x="56" y="155">20</text><text class="xl" x="111" y="155">40</text></g>
<g transform="translate(4040,1630)"><text class="t" x="68" y="-7">845969</text><text class="yl" x="-6" y="6">0</text><text class="yl" x="-6" y="61">20</text><text class="yl" x="-6" y="116">40</text><text class="xl" x="1" y="155">0</text><text class="xl" x="56" y="155">20</text><text class="xl" x="111" y="155">40</text></g>
<g transform="translate(4239,1630)"><text class="t" x="68" y="-7">845970</text><text class="yl" x="-6" y="6">0</text><text class="yl" x="-6" y="61">20</text><text class="yl" x="-6" y="116">40</text><text class="xl" x="1" y="155">0</text><text class="xl" x="56" y="155">20</text><text class="xl" x="111" y="155">40</text></g>
<g transform="translate(2253,1825)"><text class="t" x="68" y="-7">845971</text><text class="yl" x="-6" y="6">0</text><text class="yl" x="-6" y="61">20</text><text class="yl" x="-6" y="116">40</text><text class="xl" x="1" y="155">0</text><text class="xl" x="56" y="155">20</text><text class="xl" x="111" y="155">40</text></g>
<g transform="translate(2452,1825)"><text class="t" x="68" y="-7">845972</text><text class="yl" x="-6" y="6">0</text><text class="yl" x="-6" y="61">20</text><text class="yl" x="-6" y="116">40</text><text class="xl" x="1" y="155">0</text><text class="xl" x="56" y="155">20</text><text class="xl" x="111" y="155">40</text></g>
<g transform="translate(2650,1825)"><text class="t" x="68" y="-7">845973</text><text class="yl" x="-6" y="6">0</text><text class="yl" x="-6" y="61">20</text><text class="yl" x="-6" y="116">40</text><text class="xl" x="1" y="155">0</text><text class="xl" x="56" y="155">20</text><text class="xl" x="111" y="155">40</text></g>
<g transform="translate(2849,1825)"><text class="t" x="68" y="-7">845974</text><text class="yl" x="-6" y="6">0</text><text class="yl" x="-6" y="61">20</text><text class="yl" x="-6" y="116">40</text><text class="xl" x="1" y="155">0</text><text class="xl" x="56" y="155">20</text><text class="xl" x="111" y="155">40</text></g>
<g transform="translate(3047,1825)"><text class="t" x="68" y="-7">845975</text><text class="yl" x="-6" y="6">0</text><text class="yl" x="-6" y="61">20</text><text class="yl" x="-6" y="116">40</text><text class="xl" x="1" y="155">0</text><text class="xl" x="56" y="155">20</text><text class="xl" x="111" y="155">40</text></g>
</svg>
<script>
(function(){
var seed=12345;
function R(){seed|=0;seed=seed+0x6D2B79F5|0;var t=Math.imul(seed^seed>>>15,1|seed);t=t+Math.imul(t^t>>>7,61|t)^t;return((t^t>>>14)>>>0)/4294967296;}
function G(){return (R()+R()+R()-1.5)*1.15;}
var cv=document.getElementById('cv');
function mk(x,y,w,h,f,rgb){
  var c=document.createElement('canvas');c.width=50;c.height=50;
  c.style.left=x+'px';c.style.top=y+'px';c.style.width=w+'px';c.style.height=h+'px';
  var ctx=c.getContext('2d');var im=ctx.createImageData(50,50);
  for(var j=0;j<50;j++)for(var i=0;i<50;i++){
    var k=(j*50+i)*4;
    if(rgb){var col=f(i,j);im.data[k]=col[0];im.data[k+1]=col[1];im.data[k+2]=col[2];}
    else{var v=f(i,j);v=Math.max(0,Math.min(1,v));var g=Math.round(v*255);im.data[k]=im.data[k+1]=im.data[k+2]=g;}
    im.data[k+3]=255;}
  ctx.putImageData(im,0,0);cv.appendChild(c);
}
var svgNS="http://www.w3.org/2000/svg";var dyn=document.getElementById('dyn');
function el(n,a){var e=document.createElementNS(svgNS,n);for(var k in a)e.setAttribute(k,a[k]);dyn.appendChild(e);return e;}
// ---- left images ----
var LX=[116,533,950,1364,1782],LY=[225,713,1196],LW=367,LH=368;
var colS=[],rowS=[];
for(var q=0;q<50;q++){colS.push(0.12*G());rowS.push(0.12*G());}
function meanImg(i,j){
  var b=0.55+0.03*G();
  var edge=(j-9)*1.3+2*Math.sin(j*0.7);
  if(j>9 && i<edge+4){
    var w=i<edge?1:(edge+4-i)/4;
    var v;
    if(j<26){v=0.42+0.08*(j-10)/16+0.5*colS[i]+0.08*G();}
    else{v=0.6+0.08*(j-26)/24+0.6*rowS[j]+0.5*colS[i]+0.1*G();}
    if(i>edge-4 && i<edge+1) v-=0.12;
    if(i>38&&j>42) v-=0.15;
    return w*v+(1-w)*b;}
  return b;}
function star(i,j,cx,cy,a){var r2=(i-cx)*(i-cx)+(j-cy)*(j-cy);return -a*Math.exp(-r2/6);}
function med(i,j){return 0.6+0.17*G()+star(i,j,24.5,24.5,0.5);}
function wtd(i,j){var v=0.52+0.14*G()+star(i,j,24.5,24.5,0.45);
  v-=0.1*Math.exp(-((i-8)*(i-8)+(j-15)*(j-15))/80);
  v-=0.15*Math.exp(-((i-45)*(i-45)+(j-45)*(j-45))/60);
  if(j>38&&i>20&&i<24)v+=0.12; return v;}
function det(i,j){return 0.63+0.17*G()+star(i,j,24.5,24.5,0.5);}
function umed(i,j){return 0.55+0.18*G()+star(i,j,24.5,26.5,0.5);}
function uwtd(i,j){var v=0.48+0.15*G()+star(i,j,24.5,26.5,0.4);
  v-=0.12*Math.exp(-((i-6)*(i-6)+(j-10)*(j-10))/80);
  v-=0.18*Math.exp(-((i-45)*(i-45)+(j-45)*(j-45))/60); return v;}
var B1={32:[7,10],33:[4,10],34:[0,8],35:[0,5]};
var B2={33:[38,39],34:[35,40],35:[30,40],36:[28,40],37:[28,33]};
var B3={8:[49,49],9:[48,49],10:[49,49]};
function inb(B,i,j){var r=B[j];return r&&i>=r[0]&&i<=r[1];}
function mask(bs){return function(i,j){for(var q=0;q<bs.length;q++)if(inb(bs[q],i,j))return[253,231,37];return[68,1,84];};}
var imgs=[[meanImg,meanImg,med,wtd,mask([B1,B2,B3])],[det,det,det,det,mask([B1,B3])],[meanImg,meanImg,umed,uwtd,mask([B2])]];
for(var r=0;r<3;r++)for(var c=0;c<5;c++){
  mk(LX[c],LY[r],LW,LH,imgs[r][c],c==4);
  el('rect',{x:LX[c],y:LY[r],width:LW,height:LH,fill:'none',stroke:'#000','stroke-width':4});}
// ---- thumbs ----
var TX=[2253,2452,2650,2849,3047,3246,3445,3643,3842,4040,4239],TY=[65,261,456,652,847,1043,1239,1434,1630,1825];
var red={1:1,2:1,3:1};
for(var k=44;k<=54;k++)red[k]=1;
for(k=56;k<=65;k++)red[k]=1;
for(k=67;k<=76;k++)red[k]=1;
[77,79,80,85,86,88,89,90,92,93,95,96,98,100,102].forEach(function(q){red[q]=1;});
function noise(m,s){return function(i,j){return m+s*G();};}
var strp=[];for(q=0;q<50;q++)strp.push(0.12*G());
function arc(x0,bg,inside,brightEdge){return function(i,j){
  var xc=x0-0.006*(j-32)*(j-32); var v=bg+0.008*G();
  var d=i-xc;
  if(d<0){var amp=Math.exp(-Math.pow((j-30)/14,2));v=inside+amp*strp[j]*1.2;}
  if(d<0&&d>-2.5)v-=0.35*Math.exp(-Math.pow((j-30)/16,2))+0.08;
  if(d>=0&&d<2)v+=brightEdge?0.45:0.05;
  return v;};}
function vee(xl,xr,top,bg,inside){return function(i,j){
  var v=bg+0.008*G();
  var L=xl-0.004*(j-50)*(j-50)*0.5, Rr=xr+0.004*(j-50)*(j-50)*0.5;
  if(j>top-10){var t=Math.max(0,Math.min(1,(j-top+10)/12));
    if(i>L&&i<Rr){v=bg*(1-t)+t*(inside+strp[j]*1.3);}
    if(Math.abs(i-L)<1.2||Math.abs(i-Rr)<1.2)v-=0.35*t;}
  return v;};}
var special={
 14:function(i,j){return 0.1+0.8*Math.exp(-i/4)*Math.exp(-Math.pow((j-20)/12,2))+0.04*G();},
 15:function(i,j){var v=0.97; if(i<2&&j>14&&j<27)v=0.5; return v;},
 16:arc(3,0.9,0.85,false),17:arc(9,0.9,0.82,false),18:arc(17,0.75,0.78,false),19:arc(22,0.4,0.45,true),
 20:vee(5,27,27,0.82,0.88),21:vee(8,35,30,0.75,0.6),
 22:vee(13,40,32,0.7,0.6),23:vee(19,47,34,0.6,0.6),24:vee(28,55,36,0.72,0.65),25:vee(34,55,38,0.62,0.55),
 26:function(i,j){var v=0.96+0.01*G(); if(i>38&&j>36)v=0.75+0.12*Math.sin(j)-(j>45?0.3:0); return v;},
 27:function(i,j){var d=Math.hypot(i-47,j-49);return 0.97-0.8*Math.exp(-d/3);},
 28:function(i,j){var d=Math.hypot(i-49,j-49);return 0.93+0.02*G()-0.7*Math.exp(-d/2.5);},
 29:function(i,j){var d=Math.hypot(i-49,j-49);return 0.5+0.15*G()-0.4*Math.exp(-d/5);},
 84:function(i,j){var v=0.8+0.07*G(); if(i<2&&j>18&&j<22)v=0.1; return v;},
 78:noise(0.38,0.15)
};
for(var n=0;n<104;n++){
  var r=Math.floor(n/11),c=n%11,x=TX[c],y=TY[r];
  var f=special[n]||noise(0.45+0.12*R(),0.17);
  mk(x,y,136,137,f,false);
  el('rect',{x:x,y:y,width:136,height:137,fill:'none',stroke:red[n]?'#e8222a':'#000','stroke-width':red[n]?2:2.5});
  [1.4,56,111].forEach(function(t){
    el('line',{x1:x-6,x2:x,y1:y+t,y2:y+t,stroke:'#000','stroke-width':1.5});
    el('line',{x1:x+t,x2:x+t,y1:y+137,y2:y+143,stroke:'#000','stroke-width':1.5});});
}
// ---- scatter plots ----
var AX=[[243,1104],[1302,2161]],AY=[[1747,1998],[2039,2290],[2332,2584]];
for(var a=0;a<2;a++)for(var b=0;b<3;b++){
  el('rect',{x:AX[a][0],y:AY[b][0],width:AX[a][1]-AX[a][0],height:AY[b][1]-AY[b][0],fill:'none',stroke:'#000','stroke-width':3});
  for(var t=0;t<=100;t+=20){var xx=(a?1341:282)+t*7.6;el('line',{x1:xx,x2:xx,y1:AY[b][1],y2:AY[b][1]+10,stroke:'#000','stroke-width':2});}
}
var yt=[[1809,1892,1973],[2114,2213],[2384,2472,2560]];
for(a=0;a<2;a++)for(b=0;b<3;b++)yt[b].forEach(function(v){el('line',{x1:AX[a][0]-10,x2:AX[a][0],y1:v,y2:v,stroke:'#000','stroke-width':2});});
seed=777;
var flux=[],mag=[],snr=[];
for(n=0;n<104;n++){flux.push(200+R()*500);mag.push(23.6+R()*1.1);snr.push(1+R()*3);}
var fs={14:-500,15:-500,16:-1000,17:-1500,18:-12000,19:-43000,20:12000,21:1500,22:6000,23:3000,24:-1500,25:-1500,26:0,27:3500,28:1000};
var ss={14:-1,15:-2,16:-3,17:-5,18:-60,19:-215,20:45,21:5,22:30,23:15,24:-10,25:-10,26:-2,27:18,28:6};
var ms={0:24.5,1:24.5,2:24.5,3:23.8,4:24.1,5:24.5,6:24.7,7:24.0,8:24.0,9:24.4,10:23.6,11:23.9,12:24.3,13:24.6,20:20.9,21:23.0,22:21.5,23:22.3,26:25.1,27:22.0,28:23.2,29:24.0,30:24.1,31:24.4,32:23.9,55:25.0,77:24.9,78:25.1,94:25.0,97:25.4,98:24.7,96:23.5,99:24.7,100:24.3,101:24.0,103:24.4};
for(k in fs)flux[k]=fs[k];for(k in ss)snr[k]=ss[k];for(k in ms)mag[k]=ms[k];
[14,15,16,17,18,19,24,25].forEach(function(q){mag[q]=null;});
var oL={0:1,55:1,66:1,77:1,78:1,79:1,80:1,81:1,85:1,94:1,96:1,99:1,101:1,103:1};for(k=4;k<=43;k++)oL[k]=1;
var oR={97:1};for(k=13;k<=28;k++)oR[k]=1;
for(a=0;a<2;a++){var ox=a?1341:282,os=a?oR:oL;
 for(n=0;n<104;n++){var xx=ox+n*7.6,col=os[n]?'#ff7f0e':'#1f77b4';
  el('circle',{cx:xx,cy:1809-flux[n]/20000*82,r:5,fill:col});
  if(mag[n]!==null)el('circle',{cx:xx,cy:2114+(mag[n]-22)*49.5,r:5,fill:col});
  el('circle',{cx:xx,cy:2384-snr[n]/100*88,r:5,fill:col});}}
})();
</script>
</body></html>
